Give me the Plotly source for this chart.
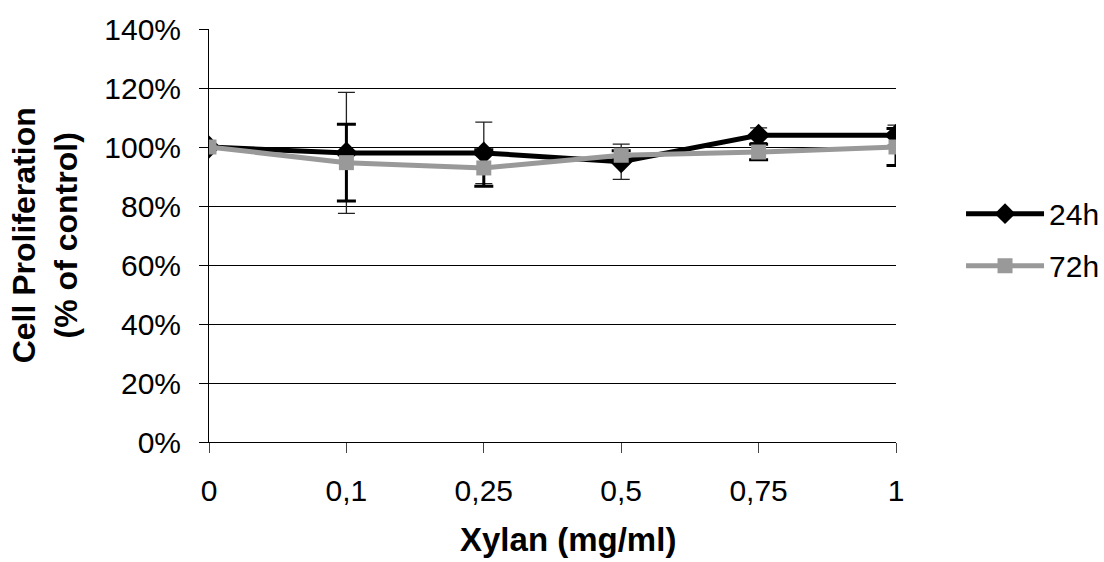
import plotly.graph_objects as go

categories = ["0", "0,1", "0,25", "0,5", "0,75", "1"]
h24 = [100, 98, 98, 95, 104, 104]
h24_err = [0, 20.5, 10.4, 6, 2.5, 3.4]
h72 = [100, 94.7, 92.9, 97.2, 98.3, 100]
h72_err = [0, 13, 6.2, 1.5, 2.6, 6.3]
y_ticks = [0, 20, 40, 60, 80, 100, 120, 140]
y_tick_labels = [f"{v}%" for v in y_ticks]

FONT = "Liberation Sans, Arial, sans-serif"

fig = go.Figure()
fig.add_trace(go.Scatter(
    x=categories, y=h24, name="24h", mode="lines+markers", legendgroup="a",
    line=dict(color="black", width=5),
    marker=dict(symbol="diamond", size=17.5, color="black"),
    error_y=dict(type="data", array=h24_err, visible=True,
                 color="#222222", thickness=1.3, width=8.5),
))
fig.add_trace(go.Scatter(
    x=categories, y=h72, name="72h", mode="lines+markers", legendgroup="b",
    line=dict(color="#999999", width=5),
    marker=dict(symbol="square", size=15, color="#999999"),
    error_y=dict(type="data", array=h72_err, visible=True,
                 color="black", thickness=3, width=9.5),
))

fig.update_layout(
    width=1104, height=562,
    margin=dict(l=209, r=208, t=29, b=120, autoexpand=False),
    paper_bgcolor="white", plot_bgcolor="white",
    font=dict(family=FONT, size=30, color="black"),
    showlegend=True,
    legend=dict(xref="container", x=0.8705, y=0.49, xanchor="left", yanchor="middle",
                traceorder="grouped", tracegroupgap=10,
                font=dict(size=30), itemwidth=78, bgcolor="rgba(0,0,0,0)"),
    xaxis=dict(type="category", range=[0, 5], showgrid=False,
               showline=True, linecolor="black", linewidth=1,
               ticks="outside", ticklen=10, tickcolor="#444444",
               tickfont=dict(size=30), ticklabelstandoff=12),
    yaxis=dict(range=[0, 140], tickvals=y_ticks, ticktext=y_tick_labels,
               showgrid=True, gridcolor="black", gridwidth=1,
               showline=True, linecolor="black", linewidth=1,
               zeroline=False, ticks="outside", ticklen=9, tickcolor="black",
               tickfont=dict(size=30), ticklabelstandoff=12),
    annotations=[
        dict(text="<b>Cell Proliferation<br>(% of control)</b>", xref="paper", yref="paper",
             x=-0.239, y=0.5, xanchor="center", yanchor="middle", textangle=-90,
             showarrow=False, font=dict(size=32, family=FONT)),
        dict(text="<b>Xylan (mg/ml)</b>", xref="paper", yref="paper",
             x=0.522, y=-0.237, xanchor="center", yanchor="middle",
             showarrow=False, font=dict(size=33, family=FONT)),
    ],
)

fig.write_html("out.html", config={"displayModeBar": False},
               post_script="document.body.style.margin='0';document.body.style.overflow='hidden';")
